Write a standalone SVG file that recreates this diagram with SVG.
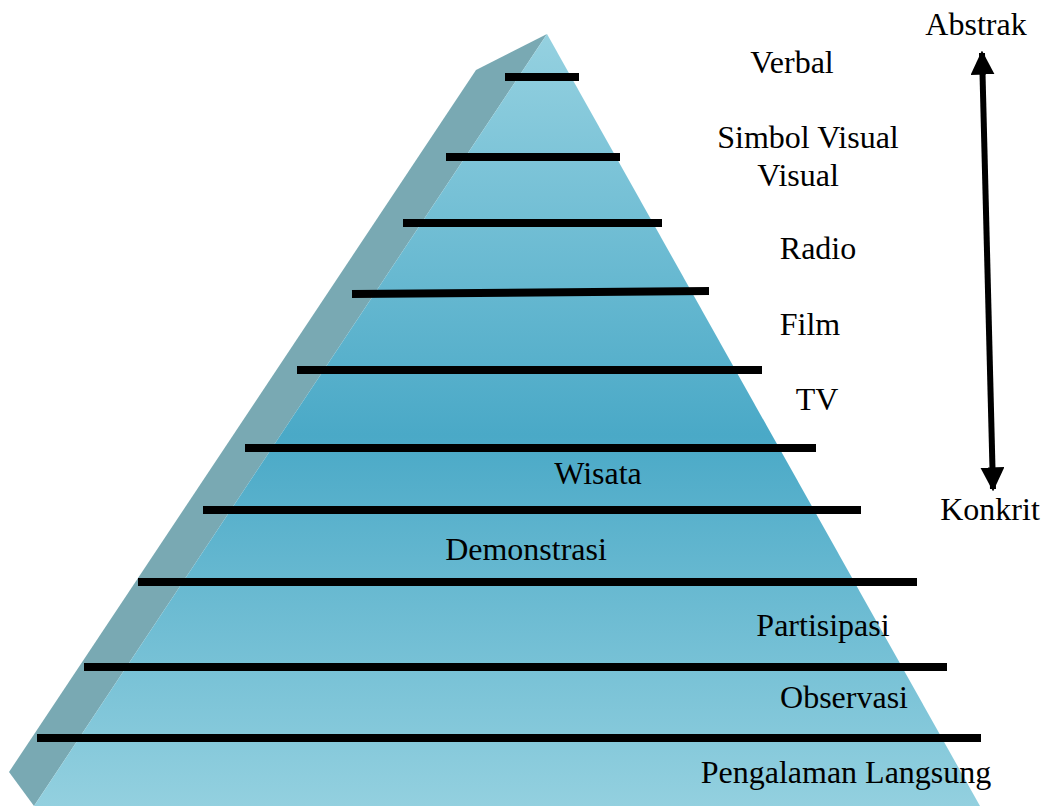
<svg xmlns="http://www.w3.org/2000/svg" width="1045" height="806" viewBox="0 0 1045 806">
<defs>
<linearGradient id="front" gradientUnits="userSpaceOnUse" x1="0" y1="34" x2="0" y2="806">
<stop offset="0" stop-color="#95d1e0"/>
<stop offset="0.52" stop-color="#4aa9c7"/>
<stop offset="1" stop-color="#93d0df"/>
</linearGradient>
<marker id="ah" viewBox="0 0 10 10" refX="9" refY="5" markerWidth="4" markerHeight="4" orient="auto-start-reverse" markerUnits="strokeWidth">
<path d="M0,0 L10,5 L0,10 Z" fill="#000"/>
</marker>
<style>
.lbl{font-family:"Liberation Serif","Times New Roman",serif;font-size:32px;fill:#000}
.bar{stroke:#000;stroke-width:8;fill:none}
</style>
</defs>
<rect width="1045" height="806" fill="#fff"/>
<g id="pyramid">
<polygon points="547,34 476,70 9,772 34,806" fill="#79a9b3"/>
<polygon points="547,34 980,806 34,806" fill="url(#front)"/>
</g>
<g id="connectors">
<line class="bar" x1="505" y1="77" x2="579" y2="77"/>
<line class="bar" x1="446" y1="157" x2="620" y2="157"/>
<line class="bar" x1="403" y1="223" x2="662" y2="223"/>
<line class="bar" x1="352" y1="294" x2="709" y2="291"/>
<line class="bar" x1="297" y1="370" x2="762" y2="370"/>
<line class="bar" x1="245" y1="448" x2="816" y2="448"/>
<line class="bar" x1="203" y1="510" x2="861" y2="510"/>
<line class="bar" x1="138" y1="582" x2="917" y2="582"/>
<line class="bar" x1="84" y1="667" x2="947" y2="667"/>
<line class="bar" x1="37" y1="738" x2="981" y2="738"/>
<line x1="982" y1="53" x2="993" y2="489" stroke="#000" stroke-width="6" marker-start="url(#ah)" marker-end="url(#ah)"/>
</g>
<g id="labels">
<text class="lbl" x="792" y="73" text-anchor="middle">Verbal</text>
<text class="lbl" x="808" y="148" text-anchor="middle">Simbol Visual</text>
<text class="lbl" x="798" y="186" text-anchor="middle">Visual</text>
<text class="lbl" x="818" y="259" text-anchor="middle">Radio</text>
<text class="lbl" x="810" y="335" text-anchor="middle">Film</text>
<text class="lbl" x="817" y="410" text-anchor="middle">TV</text>
<text class="lbl" x="598" y="484" text-anchor="middle">Wisata</text>
<text class="lbl" x="526" y="560" text-anchor="middle">Demonstrasi</text>
<text class="lbl" x="823" y="636" text-anchor="middle">Partisipasi</text>
<text class="lbl" x="844" y="708" text-anchor="middle">Observasi</text>
<text class="lbl" x="846" y="783" text-anchor="middle">Pengalaman Langsung</text>
<text class="lbl" x="976" y="35" text-anchor="middle">Abstrak</text>
<text class="lbl" x="990" y="520" text-anchor="middle">Konkrit</text>
</g>
</svg>
